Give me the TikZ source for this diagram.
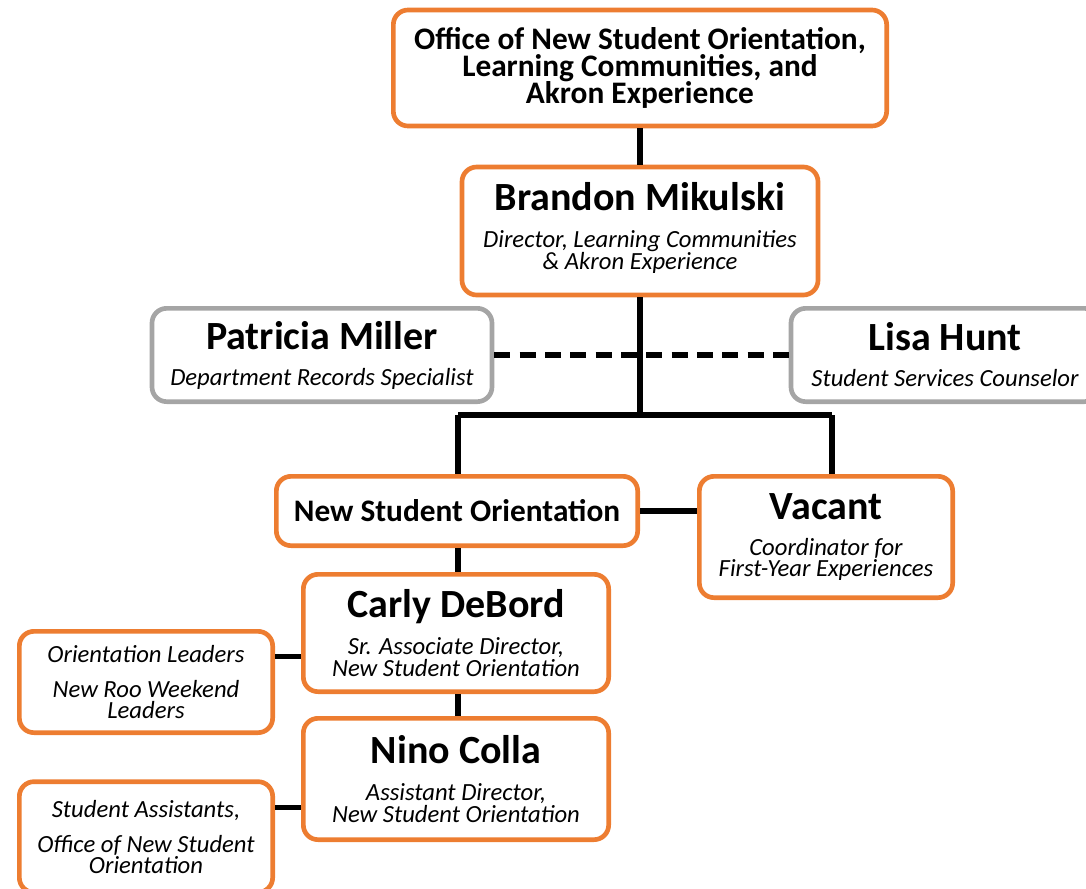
\documentclass[tikz,border=0pt]{standalone}
\usepackage{fontspec}
\setmainfont{Carlito}
\definecolor{roo orange}{HTML}{ED7D31}
\definecolor{roo gray}{HTML}{A5A5A5}
\newcommand{\subfont}{\fontsize{18.5}{16}\selectfont\itshape\lineskiplimit=-50pt\relax}
\newcommand{\headfont}{\fontsize{23.5}{20.5}\selectfont\bfseries\lineskiplimit=-50pt\relax}
\tikzset{
  unitbox/.style={draw=roo orange, line width=3.5pt, rounded corners=11pt, fill=white,
    align=center, inner sep=2pt, font=\subfont},
  staffbox/.style={unitbox, draw=roo gray},
  headbox/.style={unitbox, font=\headfont},
  link/.style={line width=4pt},
}
\newcommand{\pname}[1]{{\fontsize{30}{30}\selectfont\upshape\bfseries #1}}

\begin{document}
\begin{tikzpicture}[x=0.75pt,y=-0.75pt]
        \useasboundingbox (0,0) rectangle (1086,889);
        \clip (0,0) rectangle (1086,889);

        % top of the chart
        \node[headbox, minimum width=370pt, minimum height=87pt] (office) at (640,68)
          {Office of New Student Orientation,\\ Learning Communities, and\\ Akron Experience};
        \node[unitbox, minimum width=267pt, minimum height=96pt] (mikulski) at (640,231)
          {\pname{Brandon Mikulski}\\[12pt] Director, Learning Communities\\ \& Akron Experience\\[-8pt]};
        \node[staffbox, minimum width=255pt, minimum height=70pt] (miller) at (322,355)
          {\pname{Patricia Miller}\\[11pt] Department Records Specialist};
        \node[staffbox, minimum width=231pt, minimum height=70pt] (hunt) at (945,355)
          {\pname{Lisa Hunt}\\[11pt] Student Services Counselor};

        % orientation branch
        \node[headbox, minimum width=271pt, minimum height=52pt] (nso) at (457,511)
          {New Student Orientation};
        \node[unitbox, minimum width=190pt, minimum height=91pt] (vacant) at (826,537)
          {\pname{Vacant}\\[11pt] Coordinator for\\ First-Year Experiences};
        \node[unitbox, minimum width=229pt, minimum height=88pt] (debord) at (456,633)
          {\pname{Carly DeBord}\\[12pt] Sr. Associate Director,\\ New Student Orientation};
        \node[unitbox, minimum width=229pt, minimum height=91pt] (colla) at (456,779)
          {\pname{Nino Colla}\\[12pt] Assistant Director,\\ New Student Orientation};
        \node[unitbox, minimum width=190pt, minimum height=76pt] (leaders) at (146,682)
          {Orientation Leaders\\[10pt] New Roo Weekend\\ Leaders};
        \node[unitbox, minimum width=190pt, minimum height=83pt] (assistants) at (146,837)
          {Student Assistants,\\[10pt] Office of New Student\\ Orientation};

        \coordinate (hub) at (640,415);
        \coordinate (lefttee) at (458,415);
        \coordinate (righttee) at (832,415);

        \draw[link] (office.south) -- (mikulski.north);
        \draw[link, dash pattern=on 12pt off 7pt] (miller.east) -- (hunt.west);
        \draw[link] (mikulski.south) -- (hub);
        \draw[link] (lefttee) -- (righttee);
        \draw[link] (lefttee) -- (lefttee |- nso.north);
        \draw[link] (righttee) -- (righttee |- vacant.north);
        \draw[link] (nso.east) -- (nso.east -| vacant.west);
        \draw[link] (lefttee |- nso.south) -- (lefttee |- debord.north);
        \draw[link] (lefttee |- debord.south) -- (lefttee |- colla.north);
        \draw[link] ([yshift=19pt]leaders.east) -- ([yshift=19pt]leaders.east -| debord.west);
        \draw[link] ([yshift=22pt]assistants.east) -- ([yshift=22pt]assistants.east -| colla.west);
    \end{tikzpicture}
\end{document}
